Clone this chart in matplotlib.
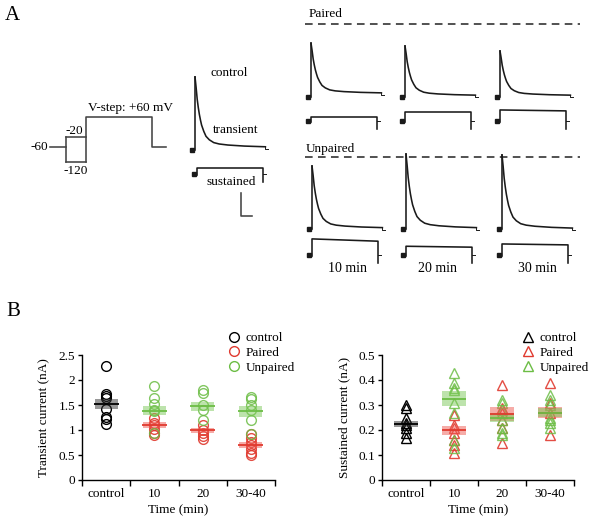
import numpy as np
import matplotlib
matplotlib.use("Agg")
import matplotlib.pyplot as plt
from matplotlib.lines import Line2D

plt.rcParams['font.family'] = ['Liberation Serif', 'DejaVu Serif']
plt.rcParams['font.size'] = 9.5

# ---------------------------
# Panel B data
# ---------------------------
groups = ["control", "10", "20", "30-40"]

trans_ctrl = [2.28, 1.72, 1.68, 1.64, 1.43, 1.27, 1.22, 1.12]
trans_paired = [[1.25, 1.15, 1.10, 1.02, 0.95, 0.90],
                [1.10, 1.01, 0.95, 0.88, 0.83],
                [0.93, 0.85, 0.77, 0.70, 0.63, 0.55, 0.50]]
trans_unpaired = [[1.89, 1.65, 1.53, 1.41, 1.38, 0.95],
                  [1.81, 1.75, 1.50, 1.40, 1.21],
                  [1.67, 1.62, 1.50, 1.40, 1.21, 0.93]]
trans_mean = {"control": [1.53], "Paired": [1.11, 1.00, 0.71], "Unpaired": [1.39, 1.48, 1.38]}
trans_sem = {"control": [0.10], "Paired": [0.06, 0.05, 0.06], "Unpaired": [0.09, 0.09, 0.11]}

sust_ctrl = [0.30, 0.29, 0.25, 0.23, 0.22, 0.21, 0.19, 0.17]
sust_paired = [[0.26, 0.22, 0.21, 0.19, 0.16, 0.14, 0.11],
               [0.38, 0.29, 0.27, 0.24, 0.21, 0.15],
               [0.39, 0.31, 0.27, 0.18]]
sust_unpaired = [[0.43, 0.39, 0.37, 0.36, 0.31, 0.27, 0.16, 0.13],
                 [0.32, 0.31, 0.28, 0.24, 0.21, 0.19, 0.18],
                 [0.34, 0.32, 0.30, 0.25, 0.24, 0.23, 0.21]]
sust_mean = {"control": [0.225], "Paired": [0.20, 0.265, 0.27], "Unpaired": [0.325, 0.25, 0.27]}
sust_sem = {"control": [0.013], "Paired": [0.018, 0.027, 0.022], "Unpaired": [0.03, 0.017, 0.017]}

# ---------------------------
# Panel A data (traces, nA / ms / mV)
# ---------------------------
decay_t_ms = [0, 5, 10, 15, 20, 25, 30, 40, 50, 65, 85, 110, 150, 225, 320]
decay_frac = [1.0, 0.85, 0.68, 0.56, 0.46, 0.38, 0.31, 0.22, 0.15, 0.10, 0.06, 0.04, 0.025, 0.01, 0.0]

ctrl_peak, ctrl_plateau, ctrl_sust = 1.59, 0.07, 0.13
paired_peak = [1.17, 1.11, 1.00]
paired_plateau = [0.09, 0.04, 0.04]
paired_sust = [(0.09, 0.09), (0.20, 0.20), (0.24, 0.22)]
unpaired_peak = [1.37, 1.63, 1.61]
unpaired_plateau = [0.03, 0.03, 0.02]
unpaired_sust = [(0.35, 0.30), (0.19, 0.17), (0.24, 0.22)]
time_labels = ["10 min", "20 min", "30 min"]

vstep_t_ms = [0, 73, 164, 464, 527]
vstep_hold, vstep_pre, vstep_test = -60, (-20, -120), 60

# ---------------------------
# layout (pixels in a 591x518 figure)
# ---------------------------
PX_PER_NA = 46.0
PX_PER_MS = 0.22
PX_PER_MV = 0.25
SUST_MS = 300

red = '#e03a2f'
green = '#6cbd45'

fig = plt.figure(figsize=(5.91, 5.18), dpi=100)
ov = fig.add_axes([0, 0, 1, 1])
ov.set_xlim(0, 591)
ov.set_ylim(518, 0)
ov.axis('off')
ov.patch.set_alpha(0)

lw = 1.15
tc = '#1a1a1a'


def transient(x0, base, peak, plateau):
    t = np.array(decay_t_ms) * PX_PER_MS + x0
    y = base - (plateau + (peak - plateau) * np.array(decay_frac)) * PX_PER_NA
    ov.plot([x0, x0], [base, y[0]], color=tc, lw=lw)
    ov.plot(t, y, color=tc, lw=lw)
    ov.plot([t[-1], t[-1], t[-1] + 3], [y[-1], y[-1] + 2, y[-1] + 2], color=tc, lw=0.7)
    ov.plot([x0 - 3], [base], marker='s', ms=2.5, color=tc)


def sustained(x0, base, lvl):
    x1 = x0 + SUST_MS * PX_PER_MS
    y0 = base - lvl[0] * PX_PER_NA
    y1 = base - lvl[1] * PX_PER_NA
    ov.plot([x0, x0, x1, x1], [base + 1, y0, y1, base + 8], color=tc, lw=lw)
    ov.plot([x1, x1 + 3], [base, base], color=tc, lw=0.7)
    ov.plot([x0 - 3], [base], marker='s', ms=2.5, color=tc)


ov.text(12, 15, "A", fontsize=15, va='center', ha='center')
ov.text(13, 312, "B", fontsize=15, va='center', ha='center')

# voltage protocol
vx0, vy0 = 50, 147
vx = [vx0 + t * PX_PER_MS for t in vstep_t_ms]
vy = lambda mv: vy0 - (mv - vstep_hold) * PX_PER_MV
pc = '#444444'
ov.plot([vx[0], vx[1]], [vy(vstep_hold)] * 2, color=pc, lw=lw)
ov.plot([vx[1], vx[1]], [vy(vstep_pre[0]), vy(vstep_pre[1])], color=pc, lw=lw)
for p in vstep_pre:
    ov.plot([vx[1], vx[2]], [vy(p)] * 2, color=pc, lw=lw)
ov.plot([vx[2], vx[2], vx[3], vx[3], vx[4]],
        [vy(vstep_pre[1]), vy(vstep_test), vy(vstep_test), vy(vstep_hold), vy(vstep_hold)],
        color=pc, lw=lw)
ov.text(vx[0] - 2, vy(vstep_hold), "%d" % vstep_hold, ha='right', va='center')
ov.text(vx[1] - 1, vy(vstep_pre[0]) - 6, "%d" % vstep_pre[0], ha='left', va='center')
ov.text((vx[1] + vx[2]) / 2, vy(vstep_pre[1]) + 9, "%d" % vstep_pre[1], ha='center', va='center')
ov.text(vx[2] + 2, vy(vstep_test) - 9, "V-step: +%d mV" % vstep_test, ha='left', va='center')

# control traces
transient(195, 150, ctrl_peak, ctrl_plateau)
sustained(197, 174, (ctrl_sust, ctrl_sust))
ov.text(229, 73, "control", ha='center', va='center')
ov.text(236, 130, "transient", ha='center', va='center')
ov.text(231, 182, "sustained", ha='center', va='center')
ov.plot([241, 241, 241 + 50 * PX_PER_MS], [216 - 0.5 * PX_PER_NA, 216, 216], color=pc, lw=lw)

# paired / unpaired traces
ov.text(309, 14, "Paired", ha='left', va='center')
ov.text(306, 149, "Unpaired", ha='left', va='center')
for yd in (24, 157):
    ov.plot([305, 580], [yd, yd], color='#222222', lw=1.1, ls=(0, (5, 3.5)))

paired_x = [311, 405, 500]
unpaired_x = [312, 406, 502]
for i in range(3):
    transient(paired_x[i], 97, paired_peak[i], paired_plateau[i])
    sustained(paired_x[i], 121, paired_sust[i])
    transient(unpaired_x[i], 229, unpaired_peak[i], unpaired_plateau[i])
    sustained(unpaired_x[i], 255, unpaired_sust[i])
for xc, lab in zip([347, 437, 537], time_labels):
    ov.text(xc, 268, lab, ha='center', va='center', fontsize=10)


# ---------------------------
# Panel B
# ---------------------------
def scatter_panel(ax, ctrl, paired, unpaired, means, sems, marker, ylim, yticks, yticklabels, ylabel):
    xc = np.arange(len(groups)) + 0.5
    ms = 7 if marker == 'o' else 7.5
    ax.plot([xc[0]] * len(ctrl), ctrl, ls='none', marker=marker, mfc='none', mec='black', ms=ms, mew=1.0)
    for i in range(3):
        ax.plot([xc[i + 1]] * len(paired[i]), paired[i], ls='none', marker=marker,
                mfc='none', mec=red, ms=ms, mew=1.0, alpha=0.9)
        ax.plot([xc[i + 1]] * len(unpaired[i]), unpaired[i], ls='none', marker=marker,
                mfc='none', mec=green, ms=ms, mew=1.0, alpha=0.85)
    cols = {"control": ('#333333', 'black'), "Paired": ('#ee5a52', red), "Unpaired": ('#7cc85a', green)}
    for key in ["control", "Paired", "Unpaired"]:
        xs = xc[:1] if key == "control" else xc[1:]
        m = np.array(means[key])
        s = np.array(sems[key])
        ax.bar(xs, 2 * s, bottom=m - s, width=0.48, color=cols[key][0], alpha=0.5, zorder=3)
        ax.hlines(m, xs - 0.26, xs + 0.26, color=cols[key][1], lw=1.3, zorder=4)
    ax.set_xlim(0, 4)
    ax.set_ylim(*ylim)
    ax.set_yticks(yticks)
    ax.set_yticklabels(yticklabels)
    ax.set_xticks([0, 1, 2, 3, 4])
    ax.set_xticklabels([])
    ax.set_xticks(xc, minor=True)
    ax.set_xticklabels(groups, minor=True)
    ax.tick_params(axis='x', which='minor', length=0, pad=6)
    ax.tick_params(axis='x', which='major', length=4, direction='out', width=1)
    ax.tick_params(axis='y', length=3, direction='out', width=1, pad=2)
    for sp in ('top', 'right'):
        ax.spines[sp].set_visible(False)
    for sp in ('left', 'bottom'):
        ax.spines[sp].set_linewidth(1.0)
    ax.set_xlabel("Time (min)", labelpad=3)
    ax.set_ylabel(ylabel, labelpad=6)
    ax.patch.set_alpha(0)


ax1 = fig.add_axes([82 / 591, 38 / 518, 193 / 591, 125 / 518])
scatter_panel(ax1, trans_ctrl, trans_paired, trans_unpaired, trans_mean, trans_sem, 'o',
              (0, 2.5), [0, 0.5, 1, 1.5, 2, 2.5], ["0", "0.5", "1", "1.5", "2", "2.5"],
              "Transient current (nA)")
ax2 = fig.add_axes([382 / 591, 38 / 518, 192 / 591, 125 / 518])
scatter_panel(ax2, sust_ctrl, sust_paired, sust_unpaired, sust_mean, sust_sem, '^',
              (0, 0.5), [0, 0.1, 0.2, 0.3, 0.4, 0.5], ["0", "0.1", "0.2", "0.3", "0.4", "0.5"],
              "Sustained current (nA)")

leg_names = ["control", "Paired", "Unpaired"]
leg_cols = ['black', red, green]
for ax, mk, lx in ((ax1, 'o', 227), (ax2, '^', 521)):
    handles = [Line2D([], [], ls='none', marker=mk, mfc='none', mec=c, ms=7, mew=1.0) for c in leg_cols]
    fig.legend(handles, leg_names, loc='upper left', bbox_to_anchor=(lx / 591, 1 - 332 / 518),
               frameon=False, handlelength=1.0, handletextpad=0.4, labelspacing=0.2,
               borderpad=0, borderaxespad=0, fontsize=9.5)

fig.savefig("out.png", dpi=100)
